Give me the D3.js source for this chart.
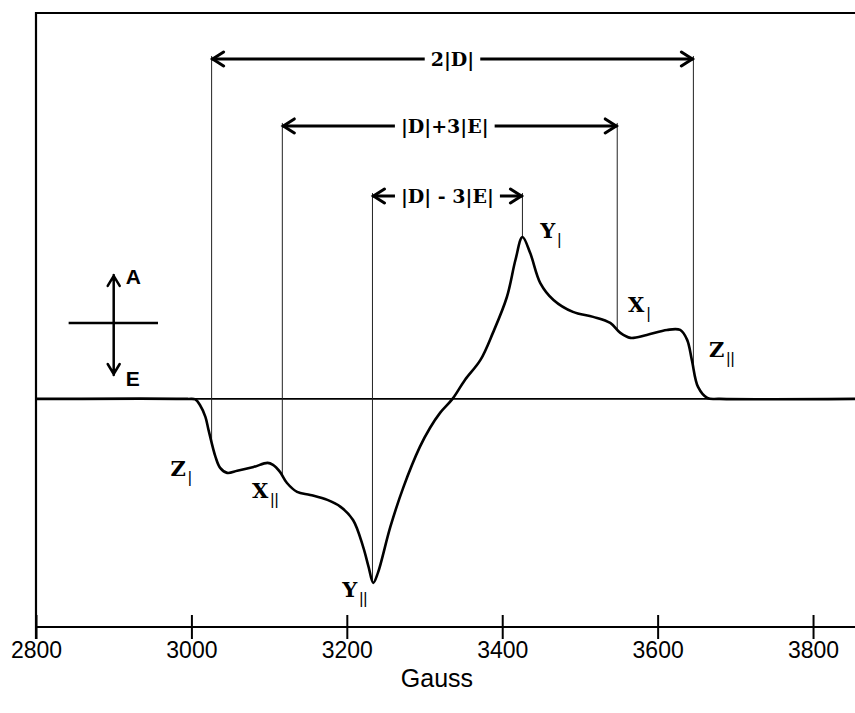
<!DOCTYPE html>
<html><head><meta charset="utf-8">
<script src="https://cdn.jsdelivr.net/npm/d3@7"></script>
<style>
html,body{margin:0;padding:0;background:#fff;}
svg{display:block;}
</style></head>
<body>
<svg id="chart" width="855" height="713"></svg>
<script>
// ---- data ----
const fieldG = [2800, 2995, 3005, 3011, 3018, 3022, 3031, 3037, 3046, 3059, 3080, 3098, 3105, 3114, 3123, 3136, 3153, 3175, 3192, 3208, 3221, 3228, 3234, 3240, 3256, 3273, 3294, 3307, 3320, 3336, 3352, 3372, 3388, 3406, 3417, 3426, 3436, 3449, 3466, 3491, 3517, 3539, 3552, 3565, 3586, 3612, 3629, 3638, 3644, 3652, 3664, 3680, 3854];
const signal = [0, 0, -0.003, -0.033, -0.098, -0.168, -0.315, -0.375, -0.402, -0.391, -0.370, -0.348, -0.359, -0.397, -0.457, -0.505, -0.522, -0.549, -0.587, -0.658, -0.804, -0.913, -1.0, -0.946, -0.696, -0.478, -0.261, -0.158, -0.076, 0, 0.103, 0.212, 0.359, 0.554, 0.755, 0.880, 0.793, 0.630, 0.538, 0.473, 0.446, 0.413, 0.359, 0.332, 0.348, 0.375, 0.375, 0.321, 0.212, 0.065, 0.005, 0, 0];

const tickValues = [2800, 3000, 3200, 3400, 3600, 3800];
const xTitle = "Gauss";

const arrowLabels = ["2|D|", "|D|+3|E|", "|D| - 3|E|"];
const arrowFrom = [3026, 3117, 3233];
const arrowTo = [3646, 3548, 3426];
const arrowLevel = [1.848, 1.484, 1.103];

const peakNames = ["Z", "X", "Y", "Y", "X", "Z"];
const peakSubs = ["|", "||", "||", "|", "|", "||"];
const peakField = [2973, 3078, 3194, 3449, 3562, 3666];
const peakValue = [-0.418, -0.538, -1.076, 0.875, 0.473, 0.228];

const legendLabels = ["A", "E"];

// ---- layout ----
const svg = d3.select("#chart");
const W = 855, H = 713;
const m = {left: 36, top: 13, bottom: 86};
const x = d3.scaleLinear().domain([2800, 3854]).range([m.left, W]);
const y = d3.scaleLinear().domain([-1.24, 2.098]).range([H - m.bottom, m.top]);

const data = fieldG.map((g, i) => ({g, v: signal[i]}));
function valueAt(g) {
  const i = d3.bisector(d => d.g).left(data, g);
  if (i <= 0) return data[0].v;
  if (i >= data.length) return data[data.length - 1].v;
  const a = data[i - 1], b = data[i];
  return a.v + (b.v - a.v) * (g - a.g) / (b.g - a.g);
}

// frame: top border and left axis
svg.append("line").attr("x1", x(2800)).attr("x2", W).attr("y1", y.range()[1]).attr("y2", y.range()[1])
  .attr("stroke", "#000").attr("stroke-width", 2.2);
svg.append("line").attr("x1", x(2800)).attr("x2", x(2800)).attr("y1", y.range()[1] - 1).attr("y2", y.range()[0] + 12)
  .attr("stroke", "#000").attr("stroke-width", 2.2);

// x axis
const xAxis = d3.axisBottom(x).tickValues(tickValues).tickFormat(d3.format("d")).tickSizeOuter(0).tickSizeInner(12).tickPadding(3);
const gx = svg.append("g").attr("transform", `translate(0,${y.range()[0]})`).call(xAxis);
gx.select(".domain").attr("stroke", "#000").attr("stroke-width", 2.2).attr("d", `M${x(2800)},0H${W}`);
gx.selectAll(".tick line").attr("y1", -12).attr("y2", 12).attr("stroke", "#000").attr("stroke-width", 2);
gx.selectAll(".tick text").attr("font-family", "Liberation Sans, Arial, sans-serif").attr("font-size", 23).attr("fill", "#000");
svg.append("text").attr("x", 437).attr("y", 687).attr("text-anchor", "middle")
  .attr("font-family", "Liberation Sans, Arial, sans-serif").attr("font-size", 25).text(xTitle);

// baseline
svg.append("line").attr("x1", x(2800)).attr("x2", W).attr("y1", y(0)).attr("y2", y(0))
  .attr("stroke", "#000").attr("stroke-width", 1.6);

// guide lines
const guides = [];
arrowFrom.forEach((g, i) => { guides.push({g, top: arrowLevel[i]}); guides.push({g: arrowTo[i], top: arrowLevel[i]}); });
svg.append("g").selectAll("line").data(guides).join("line")
  .attr("x1", d => x(d.g)).attr("x2", d => x(d.g))
  .attr("y1", d => y(d.top) - 3).attr("y2", d => y(valueAt(d.g)))
  .attr("stroke", "#222").attr("stroke-width", 1);

// spectrum
const line = d3.line().x(d => x(d.g)).y(d => y(d.v)).curve(d3.curveCatmullRom.alpha(0.5));
svg.append("path").datum(data).attr("d", line).attr("fill", "none").attr("stroke", "#000").attr("stroke-width", 2.6).attr("stroke-linejoin", "round");

// dimension arrows
const ag = svg.append("g");
arrowLabels.forEach((lab, i) => {
  const x0 = x(arrowFrom[i]), x1 = x(arrowTo[i]), yy = y(arrowLevel[i]);
  const xm = (x0 + x1) / 2 - (i === 1 ? 5 : 0);
  const t = ag.append("text").attr("x", xm).attr("y", yy + 7).attr("text-anchor", "middle")
    .attr("font-family", "DejaVu Serif, serif").attr("font-weight", "bold").attr("font-size", 19).text(lab);
  const bb = t.node().getBBox();
  const gap = 6;
  ag.append("path").attr("d", `M${x0},${yy}H${bb.x - gap}M${bb.x + bb.width + gap},${yy}H${x1}`)
    .attr("stroke", "#000").attr("stroke-width", 3).attr("fill", "none");
  ag.append("path").attr("d", `M${x0 + 12},${yy - 7}L${x0 + 1},${yy}L${x0 + 12},${yy + 7}M${x1 - 12},${yy - 7}L${x1 - 1},${yy}L${x1 - 12},${yy + 7}`)
    .attr("stroke", "#000").attr("stroke-width", 3).attr("fill", "none").attr("stroke-linecap", "round").attr("stroke-linejoin", "miter");
});

// peak labels
const pg = svg.append("g");
peakNames.forEach((n, i) => {
  const t = pg.append("text").attr("x", x(peakField[i])).attr("y", y(peakValue[i])).attr("fill", "#000");
  t.append("tspan").attr("font-family", "DejaVu Serif, serif").attr("font-weight", "bold").attr("font-size", 21).text(n);
  t.append("tspan").attr("dx", 2).attr("dy", 7).attr("font-family", "Liberation Sans, Arial, sans-serif").attr("font-size", 16).text(peakSubs[i]);
});

// A / E indicator
const lx = x(2900), ly = y(0.413);
svg.append("line").attr("x1", x(2842)).attr("x2", x(2957)).attr("y1", ly).attr("y2", ly).attr("stroke", "#000").attr("stroke-width", 2.5);
const yTop = y(0.674), yBot = y(0.130);
svg.append("path").attr("d", `M${lx},${yTop}V${yBot}M${lx - 6},${yTop + 11}L${lx},${yTop + 1}L${lx + 6},${yTop + 11}M${lx - 6},${yBot - 11}L${lx},${yBot - 1}L${lx + 6},${yBot - 11}`)
  .attr("stroke", "#000").attr("stroke-width", 2.5).attr("fill", "none").attr("stroke-linecap", "round");
svg.append("text").attr("x", lx + 12).attr("y", yTop + 9).attr("font-family", "Liberation Sans, Arial, sans-serif").attr("font-weight", "bold").attr("font-size", 21).text(legendLabels[0]);
svg.append("text").attr("x", lx + 12).attr("y", yBot + 11).attr("font-family", "Liberation Sans, Arial, sans-serif").attr("font-weight", "bold").attr("font-size", 21).text(legendLabels[1]);
</script>
</body></html>
